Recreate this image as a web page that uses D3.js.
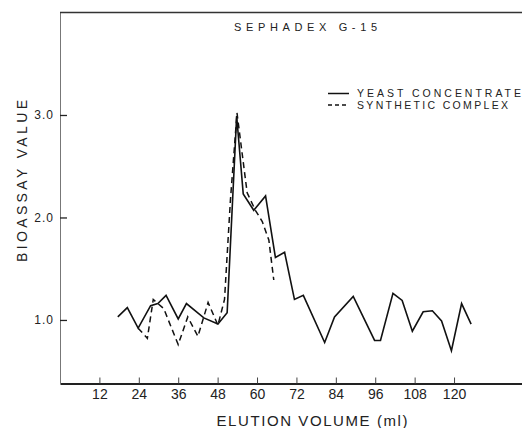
<!DOCTYPE html>
<html>
<head>
<meta charset="utf-8">
<script src="https://cdnjs.cloudflare.com/ajax/libs/d3/7.8.5/d3.min.js"></script>
<style>
  body { margin: 0; background: #fff; }
  svg { display: block; font-family: "Liberation Sans", Arial, sans-serif; }
  .axis text { fill: #222; }
</style>
</head>
<body>
<div class="chart-box"></div>
<script>
/* global d3 */

// yeast concentrate (solid line)
const yeastVolume = [17.6, 20.5, 23.8, 27.6, 29.8, 32.3, 36, 38.5, 43.8, 48.1, 50.9, 53.8,
  55.8, 59, 62.6, 65.6, 68.4, 71.4, 74.1, 80.6, 83.6, 89.3, 95.8, 97.6, 101.4, 104.2,
  107.3, 110.6, 113.4, 116.2, 119.2, 122.3, 125.2];
const yeastValue = [1.03, 1.12, 0.92, 1.14, 1.16, 1.24, 1.01, 1.16, 1.02, 0.96, 1.07, 2.99,
  2.23, 2.07, 2.21, 1.61, 1.66, 1.2, 1.24, 0.78, 1.03, 1.23, 0.8, 0.8, 1.26, 1.19,
  0.89, 1.08, 1.09, 0.99, 0.7, 1.16, 0.96];

// synthetic complex (dashed line)
const synthVolume = [23.8, 26.6, 28.4, 31.6, 36, 38.9, 42, 45.1, 48.1, 50.1, 51.9, 53.9,
  57, 59.5, 61.6, 63.6, 65.1];
const synthValue = [0.92, 0.82, 1.2, 1.11, 0.76, 1.03, 0.84, 1.17, 0.95, 1.2, 2.17, 3.02,
  2.24, 2.07, 1.96, 1.78, 1.39];

const xTicks = [12, 24, 36, 48, 60, 72, 84, 96, 108, 120];
const yTicks = [1.0, 2.0, 3.0];

const legendLabels = ["YEAST CONCENTRATE", "SYNTHETIC COMPLEX"];
const title = "SEPHADEX  G-15";
const xLabel = "ELUTION  VOLUME (ml)";
const yLabel = "BIOASSAY  VALUE";

const width = 522, height = 428;

const svg = d3.select(".chart-box").append("svg")
  .attr("width", width)
  .attr("height", height);

const x = d3.scaleLinear().domain([0, 141]).range([60, 523]);
const y = d3.scaleLinear().domain([0.38, 4.0]).range([383.5, 12.5]);

// axes, ticks point inward
const xAxis = d3.axisBottom(x)
  .tickValues(xTicks)
  .tickFormat(d3.format("d"))
  .tickSize(-6)
  .tickSizeOuter(0)
  .tickPadding(6);

const yAxis = d3.axisLeft(y)
  .tickValues(yTicks)
  .tickFormat(d3.format(".1f"))
  .tickSize(-7)
  .tickSizeOuter(0)
  .tickPadding(6);

const gx = svg.append("g")
  .attr("class", "axis")
  .attr("transform", "translate(0," + y.range()[0] + ")")
  .call(xAxis);
gx.selectAll("text").attr("font-size", 14).attr("font-family", null);
gx.select(".domain").attr("stroke", "#222").attr("stroke-width", 2);
gx.selectAll(".tick line").attr("stroke", "#444");

const gy = svg.append("g")
  .attr("class", "axis")
  .attr("transform", "translate(" + x.range()[0] + ",0)")
  .call(yAxis);
gy.selectAll("text").attr("font-size", 12).attr("letter-spacing", 1).attr("font-family", null);
gy.select(".domain").attr("stroke", "#777").attr("stroke-width", 1);
gy.selectAll(".tick line").attr("stroke", "#222").attr("stroke-width", 1.3);

// top frame line
svg.append("line")
  .attr("x1", x.range()[0]).attr("x2", width)
  .attr("y1", y(4.0)).attr("y2", y(4.0))
  .attr("stroke", "#333")
  .attr("stroke-width", 1.5);

const line = d3.line()
  .x(d => x(d[0]))
  .y(d => y(d[1]));

const yeast = yeastVolume.map((v, i) => [v, yeastValue[i]]);
const synth = synthVolume.map((v, i) => [v, synthValue[i]]);

svg.append("path")
  .datum(synth)
  .attr("d", line)
  .attr("fill", "none")
  .attr("stroke", "#111")
  .attr("stroke-width", 1.5)
  .attr("stroke-dasharray", "6,4");

svg.append("path")
  .datum(yeast)
  .attr("d", line)
  .attr("fill", "none")
  .attr("stroke", "#111")
  .attr("stroke-width", 1.6)
  .attr("stroke-linejoin", "miter");

// title
svg.append("text")
  .attr("x", 305.5)
  .attr("y", 31)
  .attr("text-anchor", "middle")
  .attr("font-size", 11)
  .attr("textLength", 143)
  .attr("lengthAdjust", "spacing")
  .attr("fill", "#222")
  .text(title);

// legend
const legend = svg.append("g").attr("class", "legend");
const legendRows = [
  {label: legendLabels[0], dash: null, cy: 93.5, len: 164},
  {label: legendLabels[1], dash: "4,3", cy: 105, len: 151}
];
legendRows.forEach(r => {
  legend.append("line")
    .attr("x1", 328).attr("x2", 349)
    .attr("y1", r.cy).attr("y2", r.cy)
    .attr("stroke", "#111")
    .attr("stroke-width", 1.5)
    .attr("stroke-dasharray", r.dash);
  legend.append("text")
    .attr("x", 357)
    .attr("y", r.cy + 3.7)
    .attr("font-size", 10.5)
    .attr("textLength", r.len)
    .attr("lengthAdjust", "spacing")
    .attr("fill", "#222")
    .text(r.label);
});

// axis titles
svg.append("text")
  .attr("x", 312)
  .attr("y", 426)
  .attr("text-anchor", "middle")
  .attr("font-size", 15)
  .attr("textLength", 191)
  .attr("lengthAdjust", "spacing")
  .attr("fill", "#222")
  .text(xLabel);

svg.append("text")
  .attr("transform", "translate(27,181) rotate(-90)")
  .attr("text-anchor", "middle")
  .attr("font-size", 14)
  .attr("textLength", 162)
  .attr("lengthAdjust", "spacing")
  .attr("fill", "#222")
  .text(yLabel);
</script>
</body>
</html>
